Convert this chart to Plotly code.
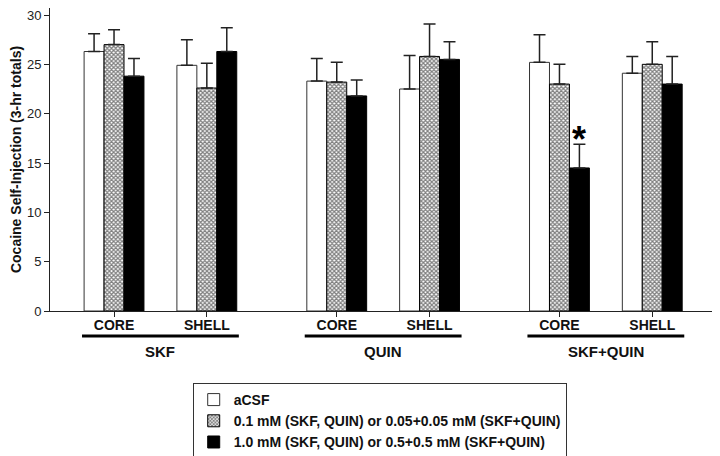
import plotly.graph_objects as go

# ---- data ----
sites = ["CORE", "SHELL", "CORE", "SHELL", "CORE", "SHELL"]
drugs = ["SKF", "QUIN", "SKF+QUIN"]
positions = [0, 1, 2.4, 3.4, 4.8, 5.8]   # category positions on the x axis

series_names = [
    "aCSF",
    "0.1 mM (SKF, QUIN) or 0.05+0.05 mM (SKF+QUIN)",
    "1.0 mM (SKF, QUIN) or 0.5+0.5 mM (SKF+QUIN)",
]
acsf = [26.3, 24.9, 23.3, 22.5, 25.2, 24.1]
acsf_err = [1.8, 2.6, 2.3, 3.4, 2.8, 1.7]
low = [27.0, 22.6, 23.2, 25.8, 23.0, 25.0]
low_err = [1.5, 2.5, 2.0, 3.3, 2.0, 2.3]
high = [23.8, 26.3, 21.8, 25.5, 14.5, 23.0]
high_err = [1.8, 2.4, 1.6, 1.8, 2.4, 2.8]

FONT = "Arial, Liberation Sans, sans-serif"
BAR_W = 0.215

fig = go.Figure()

def add_bar(name, vals, errs, color, pattern=None, linecolor="#000"):
    marker = dict(color=color, line=dict(color=linecolor, width=1))
    if pattern:
        marker["pattern"] = pattern
    fig.add_trace(go.Bar(
        name=name, x=positions, y=vals, marker=marker,
        error_y=dict(type="data", symmetric=False, array=errs,
                     arrayminus=[0] * len(errs), color="#222",
                     thickness=1.5, width=6),
    ))

add_bar(series_names[0], acsf, acsf_err, "white", linecolor="#333")
add_bar(series_names[1], low, low_err, "white",
        pattern=dict(shape="x", size=3, solidity=0.65, fgcolor="#000", bgcolor="white"))
add_bar(series_names[2], high, high_err, "#000")

# group underlines and labels
for g, drug in enumerate(drugs):
    xa, xb = positions[2 * g], positions[2 * g + 1]
    fig.add_shape(type="line", xref="x", yref="paper",
                  x0=xa - 0.345, x1=xb + 0.345, y0=-0.0825, y1=-0.0825,
                  line=dict(color="#000", width=3))
    fig.add_annotation(x=(xa + xb) / 2, y=-0.1353, xref="x", yref="paper",
                       text="<b>%s</b>" % drug, showarrow=False,
                       yanchor="middle",
                       font=dict(family=FONT, size=15, color="#111"))

# significance asterisk above black bar of SKF+QUIN CORE
fig.add_annotation(x=positions[4] + BAR_W, y=high[4] + high_err[4] - 1.8,
                   xref="x", yref="y", text="<b>*</b>", showarrow=False,
                   yanchor="bottom",
                   font=dict(family=FONT, size=36, color="#000"))

fig.update_layout(
    width=712, height=448,
    margin=dict(l=42, r=0, t=0, b=145, autoexpand=False),
    paper_bgcolor="white", plot_bgcolor="white",
    barmode="group", bargap=0.355, bargroupgap=0,
    font=dict(family=FONT, color="#222"),
    showlegend=True,
    legend=dict(x=0.213, y=-0.2376, xanchor="left", yanchor="top",
                bordercolor="#333", borderwidth=1,
                font=dict(family=FONT, size=14, color="#111", weight="bold"),
                traceorder="normal", tracegroupgap=0),
)
fig.update_xaxes(range=[-0.69, 6.53], showline=True, linecolor="#222", linewidth=1,
                 tickvals=positions, ticktext=["<b>%s</b>" % s for s in sites],
                 ticks="outside", ticklen=5, tickcolor="#222",
                 ticklabelstandoff=-4,
                 tickfont=dict(family=FONT, size=14, color="#111"),
                 showgrid=False, zeroline=False, automargin=False)
fig.update_yaxes(range=[0, 30.71], dtick=5, showline=True, linecolor="#222", linewidth=1,
                 ticks="outside", ticklen=5, tickcolor="#222",
                 ticklabeloverflow="allow",
                 tickfont=dict(family=FONT, size=13, color="#222"),
                 showgrid=False, zeroline=False, automargin=False,
                 title=dict(text="<b>Cocaine Self-Injection (3-hr totals)</b>",
                            font=dict(family=FONT, size=14, color="#111"), standoff=15))

fig.write_html("out.html")
